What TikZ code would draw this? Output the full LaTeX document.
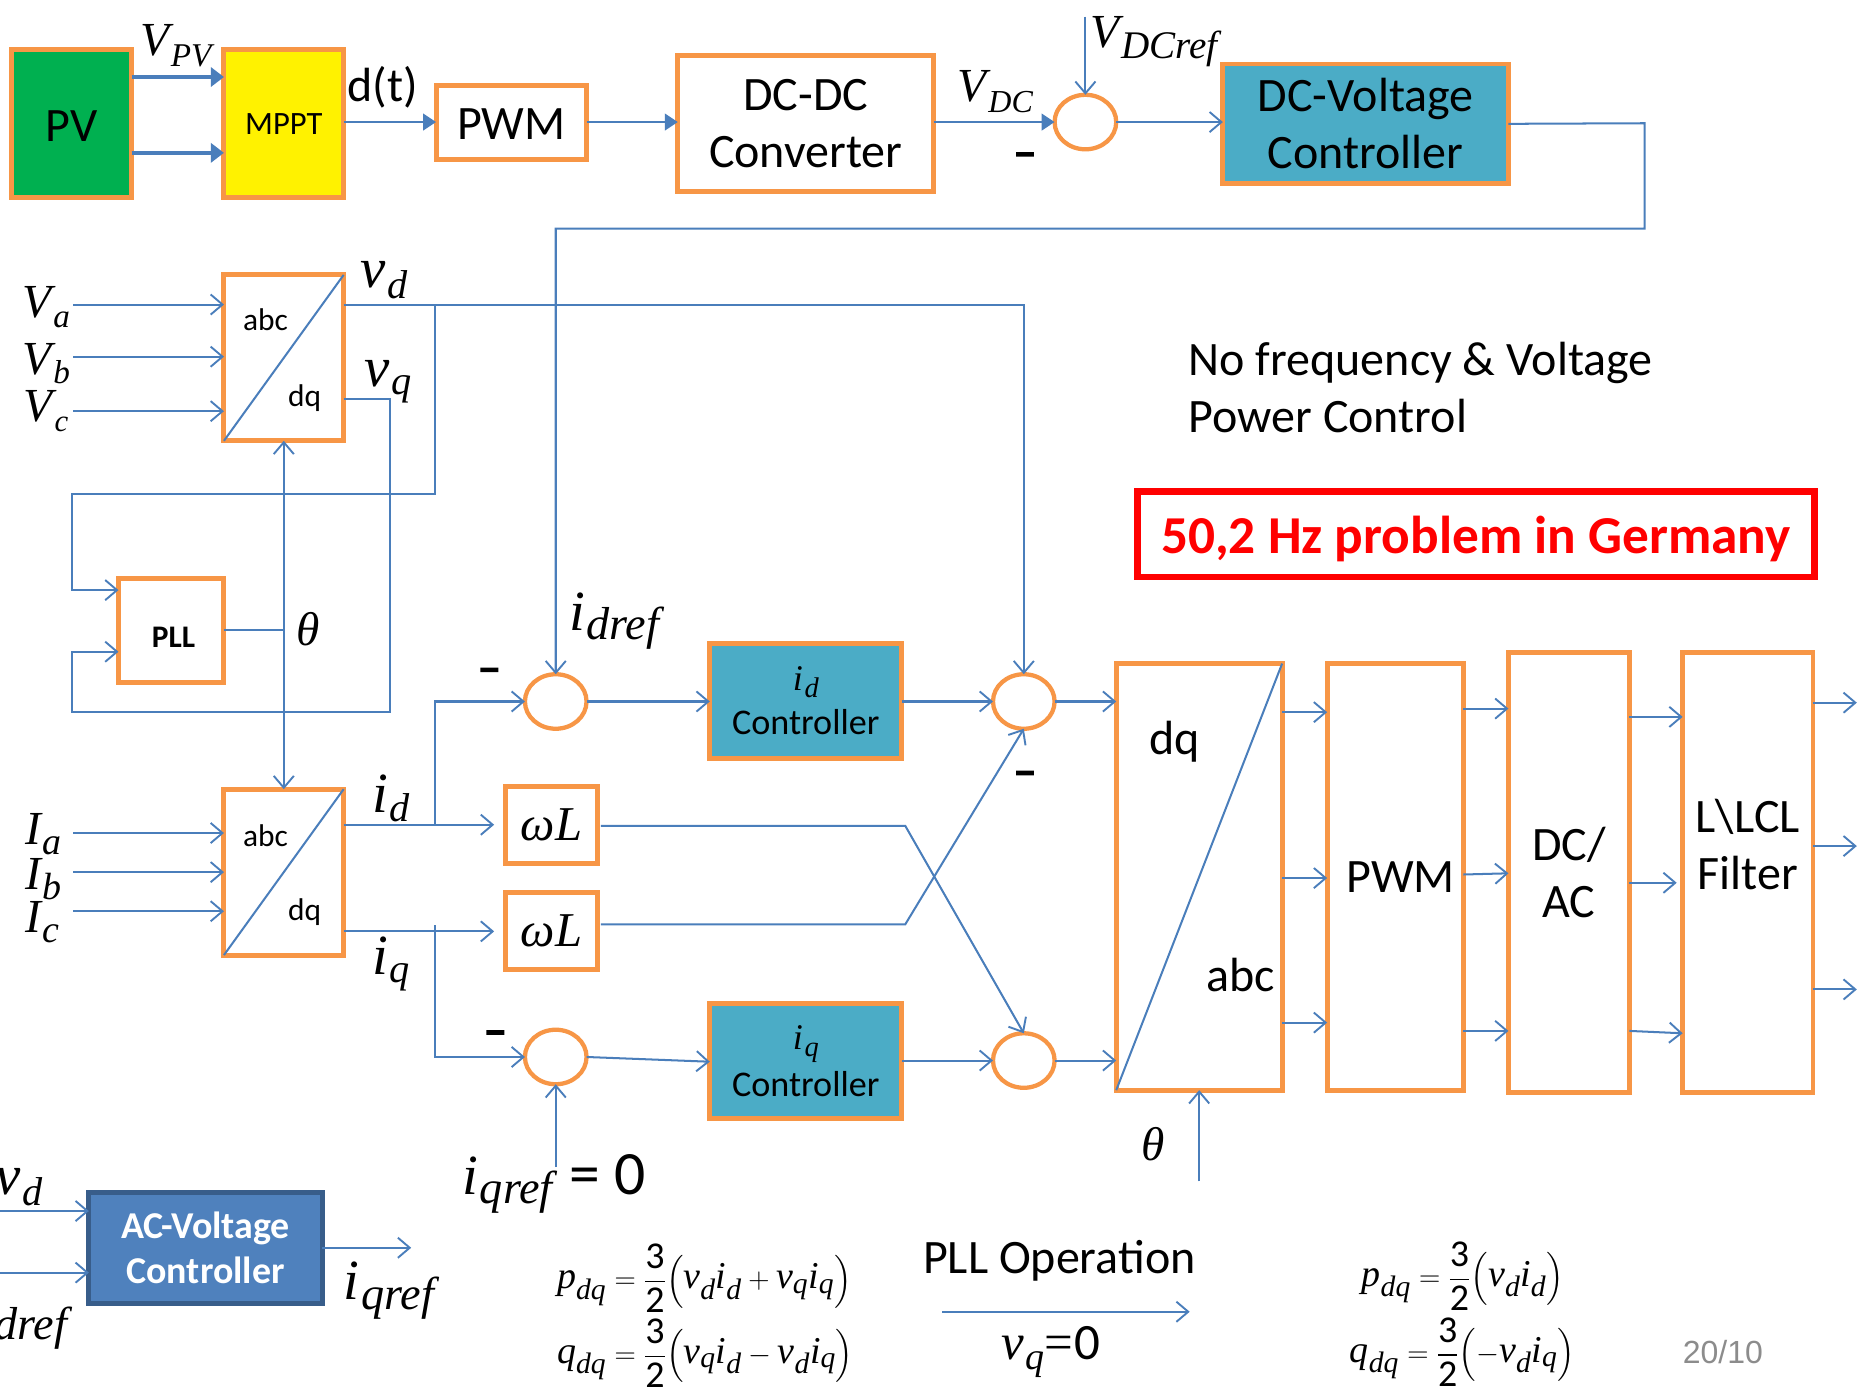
\documentclass[tikz,border=0pt]{standalone}
\usepackage{amsmath}
\usepackage{fontspec}
\setmainfont{Carlito}
\newfontfamily\mif{Liberation Serif}
\newfontfamily\arialf{Liberation Sans}
\newfontfamily\mbf[FakeBold=4]{Carlito}
\usetikzlibrary{arrows.meta,shapes.geometric}
\newcommand\I[1]{\text{\mif\itshape #1}}
\newcommand\fz[1]{\fontsize{#1}{48}\selectfont}
% base letter, subscript size, subscript drop, subscript
\newcommand\Lb[4]{{\mif\itshape #1\kern1.5pt\raisebox{-#3pt}{\fz{#2}#4}}}
\newcommand\Dn[2]{\raisebox{-#1pt}[\height][\depth]{#2}}
\newcommand\Frc{\dfrac{\text{3}\rule[-2pt]{0pt}{2pt}}{\rule{0pt}{23pt}\text{2}}}
\DeclareMathSizes{32}{32}{25}{18}
\definecolor{orangeline}{HTML}{F79646}
\definecolor{blueline}{HTML}{4A7EBB}
\definecolor{tealfill}{HTML}{4BACC6}
\definecolor{acfill}{HTML}{4F81BD}
\definecolor{acedge}{HTML}{385D8A}
\definecolor{pvgreen}{HTML}{00B050}
\tikzset{
  blk/.style={draw=orangeline,line width=4.2pt,rectangle,inner sep=0pt,outer sep=0pt,align=center,fill=white},
  sumc/.style={draw=orangeline,line width=3.6pt,ellipse,inner sep=0pt,outer sep=0pt,minimum width=52pt,minimum height=46pt,fill=white},
  wire/.style={draw=blueline,line width=1.7pt},
  arr/.style={wire,-{Straight Barb[length=10pt,width=17pt,line width=1.6pt]}},
  barr/.style={wire,line width=2.2pt,-{Triangle[length=11pt,width=14pt]}},
  tarr/.style={wire,line width=3.4pt,-{Triangle[length=11pt,width=16pt]}},
  body/.style={font=\fz{40.5},inner sep=0pt,align=center},
  small/.style={font=\fz{26.5},inner sep=0pt,align=center},
  mth/.style={font=\fz{40},inner sep=0pt},
  mthb/.style={font=\fz{48},inner sep=0pt},
  eqn/.style={font=\fz{32},inner sep=0pt},
  sgn/.style={font=\fz{38}\mbf,inner sep=0pt},
}
\begin{document}
\begin{tikzpicture}[x=1pt,y=-1pt]
\useasboundingbox[fill=white] (0,0) rectangle (1568,1170);
% top row
\node[blk,fill=pvgreen,minimum width=101pt,minimum height=125pt,font=\fz{40.5}] (pv) at (60.5,104.5) {\Dn{2}{PV}};
\node[blk,fill=yellow,minimum width=101pt,minimum height=125pt,font=\fz{27.5}] (mppt) at (239.5,104.5) {MPPT};
\node[blk,minimum width=127pt,minimum height=63pt,font=\fz{40.5}] (pwma) at (431.5,103.5) {\Dn{1}{PWM}};
\node[blk,minimum width=216pt,minimum height=115pt,font=\fz{40.5}] (dcdc) at (680,104) {DC-DC\\Converter};
\node[sumc] (sdc) at (916,103) {};
\node[blk,fill=tealfill,minimum width=241pt,minimum height=101pt,font=\fz{40.5}] (dcv) at (1152.5,104.5) {DC-Voltage\\Controller};
\draw[tarr] (pv.east |- 0,65) -- (mppt.west |- 0,65);
\draw[tarr] (pv.east |- 0,129) -- (mppt.west |- 0,129);
\draw[barr] (mppt.east |- 0,103) -- (pwma.west |- 0,103);
\draw[barr] (pwma.east |- 0,103) -- (dcdc.west |- 0,103);
\draw[barr] (dcdc.east |- 0,103) -- (sdc.west);
\draw[arr] (sdc.east) -- (dcv.west |- 0,103);
\coordinate (vdcr) at (916,14);
\draw[arr] (vdcr) -- (sdc.north);
% abc blocks
\node[blk,minimum width=101pt,minimum height=140pt] (abca) at (239.5,302) {};
\node[blk,minimum width=89pt,minimum height=88pt,font=\fz{26.5}\bfseries] (pll) at (144.5,532) {\Dn{6}{\hspace{4pt}PLL}};
\node[blk,minimum width=101pt,minimum height=140pt] (abcb) at (239.5,736) {};
\draw[wire] (abca.south west) -- (abca.north east);
\draw[wire] (abcb.south west) -- (abcb.north east);
\node[small] (abca1) at (224,270) {abc};
\node[small] (abca2) at (257,336) {dq};
\node[small] (abcb1) at (224,705) {abc};
\node[small] (abcb2) at (257,770) {dq};
% controllers
\node[sumc] (sd) at (469,592) {};
\node[sumc] (sq) at (469,892) {};
\node[sumc] (sdo) at (864,592) {};
\node[sumc] (sqo) at (864,895) {};
\node[blk,fill=tealfill,minimum width=162pt,minimum height=97pt,font=\fz{30.5}] (cd) at (680,591.5) {\Lb{i}{24}{6}{d}\\[-11pt]Controller};
\node[blk,fill=tealfill,minimum width=162pt,minimum height=97pt,font=\fz{30.5}] (cq) at (680,895.5) {\Lb{i}{24}{6}{q}\\[-9pt]Controller};
\node[blk,minimum width=77pt,minimum height=65pt,font=\fz{41}] (wa) at (465.5,696.5) {\mif\itshape ωL};
\node[blk,minimum width=77pt,minimum height=65pt,font=\fz{41}] (wb) at (465.5,785.5) {\mif\itshape ωL};
% right chain
\node[blk,minimum width=140pt,minimum height=360pt] (dq) at (1012,740) {};
\draw[wire] (dq.south west) -- (dq.north east);
\node[body] (dq1) at (991,626) {dq};
\node[body] (dq2) at (1047,823) {abc};
\node[blk,minimum width=115pt,minimum height=360pt,font=\fz{40.5}] (pwmb) at (1177.5,740) {\hspace{9pt}PWM};
\node[blk,minimum width=102pt,minimum height=371pt,font=\fz{40.5}] (dcac) at (1324,736.5) {DC/\\AC};
\node[blk,minimum width=110pt,minimum height=371pt] (flt) at (1475,736.5) {};
\node[body] (fltt) at (1475,713) {L\textbackslash LCL\\Filter};
% AC voltage controller
\node[draw=acedge,fill=acfill,line width=4.2pt,inner sep=0pt,outer sep=0pt,align=center,text=white,minimum width=197pt,minimum height=94pt,font=\fz{32}\bfseries] (acv) at (173.5,1053) {AC-Voltage\\[-10pt]Controller};
% inputs of abc
\coordinate (va) at (62,257); \coordinate (vb) at (62,301); \coordinate (vc) at (62,347);
\coordinate (ia) at (62,703); \coordinate (ib) at (62,736); \coordinate (ic) at (62,769);
\draw[arr] (va) -- (abca.west |- va);
\draw[arr] (vb) -- (abca.west |- vb);
\draw[arr] (vc) -- (abca.west |- vc);
\draw[arr] (ia) -- (abcb.west |- ia);
\draw[arr] (ib) -- (abcb.west |- ib);
\draw[arr] (ic) -- (abcb.west |- ic);
% vd, vq, PLL
\draw[arr] (abca.east |- 0,257) -- (864,257) -- (sdo.north);
\draw[arr] (367,257) -- (367,417) -- (61,417) -- (61,498) -- (pll.west |- 0,498);
\draw[arr] (abca.east |- 0,337) -- (329,337) -- (329,601) -- (61,601) -- (61,550) -- (pll.west |- 0,550);
\draw[wire] (pll.east |- 0,532) -- (239,532);
\draw[wire,{Straight Barb[length=10pt,width=17pt,line width=1.6pt]}-{Straight Barb[length=10pt,width=17pt,line width=1.6pt]}] (abca.south) -- (abcb.north);
% DC voltage feedback
\draw[arr] (dcv.east) -- (1388,104) -- (1388,193) -- (469,193) -- (sd.north);
% id iq
\coordinate (wae) at (417,696); \coordinate (wbe) at (417,786);
\draw[arr] (abcb.east |- wae) -- (wae);
\draw[arr] (abcb.east |- wbe) -- (wbe);
\draw[arr] (367,696) -- (367,592) -- (sd.west);
\draw[arr] (367,781) -- (367,892) -- (sq.west);
\draw[arr] (sd.east) -- (cd.west |- sd);
\draw[arr] (sq.east) -- (cq.west |- 0,896);
\draw[arr] (cd.east |- sd) -- (sdo.west);
\draw[arr] (cq.east |- sqo) -- (sqo.west);
\draw[arr] (sdo.east) -- (dq.west |- sdo);
\draw[arr] (sqo.east) -- (dq.west |- sqo);
\draw[arr] (507,697) -- (764,697) -- (sqo.north);
\draw[arr] (507,780) -- (764,780) -- (sdo.south);
\coordinate (iqr) at (469,985);
\draw[arr] (iqr) -- (sq.south);
\coordinate (thb) at (1012,997);
\draw[arr] (thb) -- (dq.south);
% chain arrows
\foreach \y in {601,741,863} \draw[arr] (dq.east |- 0,\y) -- (pwmb.west |- 0,\y);
\draw[arr] (pwmb.east |- 0,598) -- (dcac.west |- 0,598);
\draw[arr] (pwmb.east |- 0,738) -- (dcac.west |- 0,737);
\draw[arr] (pwmb.east |- 0,870) -- (dcac.west |- 0,870);
\draw[arr] (dcac.east |- 0,605) -- (flt.west |- 0,605);
\draw[arr] (dcac.east |- 0,745) -- (1415,745);
\draw[arr] (dcac.east |- 0,870) -- (flt.west |- 0,872);
\coordinate (oa) at (1567,593); \coordinate (ob) at (1567,714); \coordinate (oc) at (1567,835);
\draw[arr] (flt.east |- oa) -- (oa);
\draw[arr] (flt.east |- ob) -- (ob);
\draw[arr] (flt.east |- oc) -- (oc);
% AC voltage arrows
\coordinate (aci) at (0,1022); \coordinate (acj) at (0,1074); \coordinate (aco) at (347,1053);
\draw[arr] (aci) -- (acv.west |- aci);
\draw[arr] (acj) -- (acv.west |- acj);
\draw[arr] (acv.east) -- (aco);
% PLL operation arrow
\coordinate (pa) at (795,1107); \coordinate (pb) at (1004,1107);
\draw[arr] (pa) -- (pb);
% labels
\node[mth,anchor=base west] (lvpv) at (118,47) {\Lb{V}{28}{9}{PV}};
\node[body,anchor=base] (ldt) at (323,86) {d(t)};
\node[mth,anchor=base west] (lvdc) at (808,86) {\Lb{V}{27}{9}{DC}};
\node[mth,anchor=base west] (lvdcr) at (920,40) {\Lb{V}{33}{9}{DCref}};
\node[sgn] (m1) at (865,135) {–};
\node[mthb,anchor=base west] (lvd) at (304,243) {\Lb{v}{34}{9}{d}};
\node[mthb,anchor=base west] (lvq) at (307,326) {\Lb{v}{34}{7}{q}};
\node[mth,anchor=base west] (lva) at (19,268) {\Lb{V}{28}{8}{a}};
\node[mth,anchor=base west] (lvb) at (19,316) {\Lb{V}{28}{8}{b}};
\node[mth,anchor=base west] (lvc) at (20,356) {\Lb{V}{26}{8}{c}};
\node[mth,anchor=base] (lth) at (260,545) {\mif\itshape θ};
\node[mthb,anchor=base west] (lidr) at (480,532) {\Lb{i}{39}{8}{dref}};
\node[sgn] (m2) at (413,570) {–};
\node[sgn] (m3) at (865,657) {–};
\node[sgn] (m4) at (418,876) {–};
\node[mthb,anchor=base west] (lid) at (314,686) {\Lb{i}{34}{7}{d}};
\node[mthb,anchor=base west] (liq) at (314,822) {\Lb{i}{34}{7}{q}};
\node[mth,anchor=base west] (lia) at (21,713) {\Lb{I}{32}{8}{a}};
\node[mth,anchor=base west] (lib) at (21,751) {\Lb{I}{32}{8}{b}};
\node[mth,anchor=base west] (lic) at (21,787) {\Lb{I}{32}{8}{c}};
\node[mth,anchor=base] (lth2) at (973,979) {\mif\itshape θ};
\node[mthb,anchor=base west] (liqr0) at (390,1008) {\Lb{i}{39}{8}{qref}\hspace{14pt}{\fz{52}=\hspace{12pt}0}};
\node[mthb,anchor=base west] (lvd2) at (-4,1008) {\Lb{v}{34}{9}{d}};
\node[mthb,anchor=base east] (lidr2) at (57,1122) {\Lb{i}{39}{8}{dref}};
\node[mthb,anchor=base west] (liqr) at (290,1097) {\Lb{i}{39}{8}{qref}};
\node[body,anchor=west] (lnof) at (1003,331) {\begin{tabular}{@{}l@{}}No frequency \& Voltage\\Power Control\end{tabular}};
\node[draw=red,line width=5.6pt,minimum width=571pt,minimum height=72pt,inner sep=0pt,outer sep=0pt,text=red,font=\fz{45}\bfseries] (prob) at (1245.5,451) {\Dn{4}{50,2 Hz problem in Germany}};
\node[body,anchor=base] (lpll) at (894,1075) {PLL Operation};
\node[mth,anchor=base west,font=\fz{43}] (lvq0) at (845,1147) {\Lb{v}{32}{9}{q}{\mif=}\hspace{1pt}0};
\node[eqn,anchor=west] (e1) at (470,1079) {$\I{p}_{\I{dq}}=\Frc\Bigl(\I{v}_{\I{d}}\I{i}_{\I{d}}+\I{v}_{\I{q}}\I{i}_{\I{q}}\Bigr)$};
\node[eqn,anchor=west] (e2) at (470,1142) {$\I{q}_{\I{dq}}=\Frc\Bigl(\I{v}_{\I{q}}\I{i}_{\I{d}}-\I{v}_{\I{d}}\I{i}_{\I{q}}\Bigr)$};
\node[eqn,anchor=west] (e3) at (1149,1077) {$\I{p}_{\I{dq}}=\Frc\Bigl(\I{v}_{\I{d}}\I{i}_{\I{d}}\Bigr)$};
\node[eqn,anchor=west] (e4) at (1139,1141) {$\I{q}_{\I{dq}}=\Frc\Bigl(-\I{v}_{\I{d}}\I{i}_{\I{q}}\Bigr)$};
\node[inner sep=0pt,text=black!45,font=\arialf\fz{27}] (lpg) at (1454,1141) {20/10};
\end{tikzpicture}
\end{document}
